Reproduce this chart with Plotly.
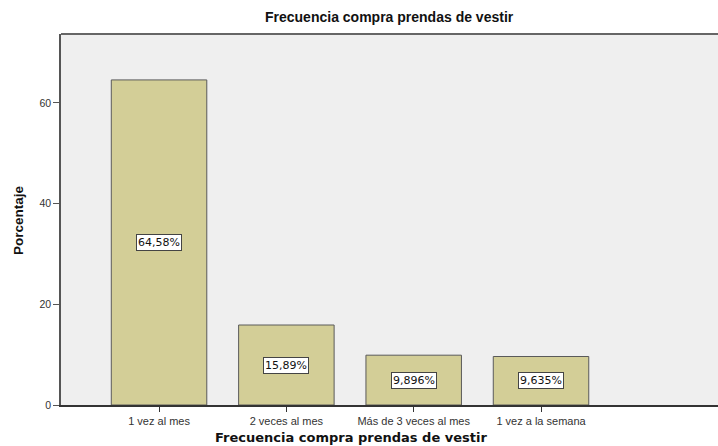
import plotly.graph_objects as go

# Data
categorias = ['1 vez al mes', '2 veces al mes', 'Más de 3 veces al mes', '1 vez a la semana']
porcentajes = [64.58, 15.89, 9.896, 9.635]
etiquetas = ['64,58%', '15,89%', '9,896%', '9,635%']
y_ticks = [0, 20, 40, 60]

W, H = 718, 446
L, R, T, B = 61, 0, 34, 41

fig = go.Figure()

fig.add_trace(go.Bar(
    x=categorias,
    y=porcentajes,
    width=0.75,
    marker=dict(color='#d3ce97', line=dict(color='#5a5a5a', width=1)),
    showlegend=False,
    hoverinfo='x+y'
))

# Etiquetas en cajas blancas a mitad de cada barra
for cat, val, lab in zip(categorias, porcentajes, etiquetas):
    fig.add_annotation(
        x=cat, y=val / 2, text=lab, showarrow=False,
        font=dict(family='DejaVu Sans, Arial', size=11, color='#111111'),
        bgcolor='white', bordercolor='#444444', borderwidth=1, borderpad=1
    )

# Títulos como anotaciones (posición en píxeles)
fig.add_annotation(
    text='<b>Frecuencia compra prendas de vestir</b>', showarrow=False,
    xref='paper', yref='paper', x=0.5, y=1 + (T - 17) / (H - T - B),
    xanchor='center', yanchor='middle',
    font=dict(family='Liberation Sans, Arial', size=14, color='#111111')
)
fig.add_annotation(
    text='<b>Frecuencia compra prendas de vestir</b>', showarrow=False,
    xref='paper', yref='paper', x=(351 - L) / (W - L - R), y=-(437 - (H - B)) / (H - T - B),
    xanchor='center', yanchor='middle',
    font=dict(family='DejaVu Sans, Arial', size=13, color='#111111')
)
fig.add_annotation(
    text='<b>Porcentaje</b>', showarrow=False, textangle=-90,
    xref='paper', yref='paper', x=-(L - 18) / (W - L - R), y=(H - B - 220) / (H - T - B),
    xanchor='center', yanchor='middle',
    font=dict(family='Liberation Sans, Arial', size=13.5, color='#111111')
)

fig.update_layout(
    width=W, height=H,
    margin=dict(l=L, r=R, t=T, b=B, autoexpand=False),
    paper_bgcolor='white',
    plot_bgcolor='#efefef',
    bargap=0.25,
    xaxis=dict(
        type='category',
        range=[-0.77, 4.39],
        automargin=False,
        showline=True, linecolor='#333333', linewidth=1.5, mirror=False,
        ticks='outside', ticklen=5, tickcolor='#333333',
        tickfont=dict(family='Liberation Sans, Arial', size=11, color='#333333'),
        showgrid=False, fixedrange=True
    ),
    yaxis=dict(
        range=[0, 73.7],
        tickvals=y_ticks,
        automargin=False,
        showline=True, linecolor='#555555', linewidth=1.5,
        ticks='outside', ticklen=6, tickcolor='#555555',
        tickfont=dict(family='Liberation Sans, Arial', size=10.5, color='#333333'),
        showgrid=False, zeroline=False, fixedrange=True
    )
)

# Borde superior del área del gráfico
fig.add_shape(type='line', xref='paper', yref='paper', x0=0, x1=1, y0=1, y1=1,
              line=dict(color='#666666', width=2))

# Quitar el margen por defecto del <body> para que la figura ocupe la ventana
fig.write_html('out.html', config={'displayModeBar': False},
               post_script="document.body.style.margin='0';document.body.style.overflow='hidden';")
